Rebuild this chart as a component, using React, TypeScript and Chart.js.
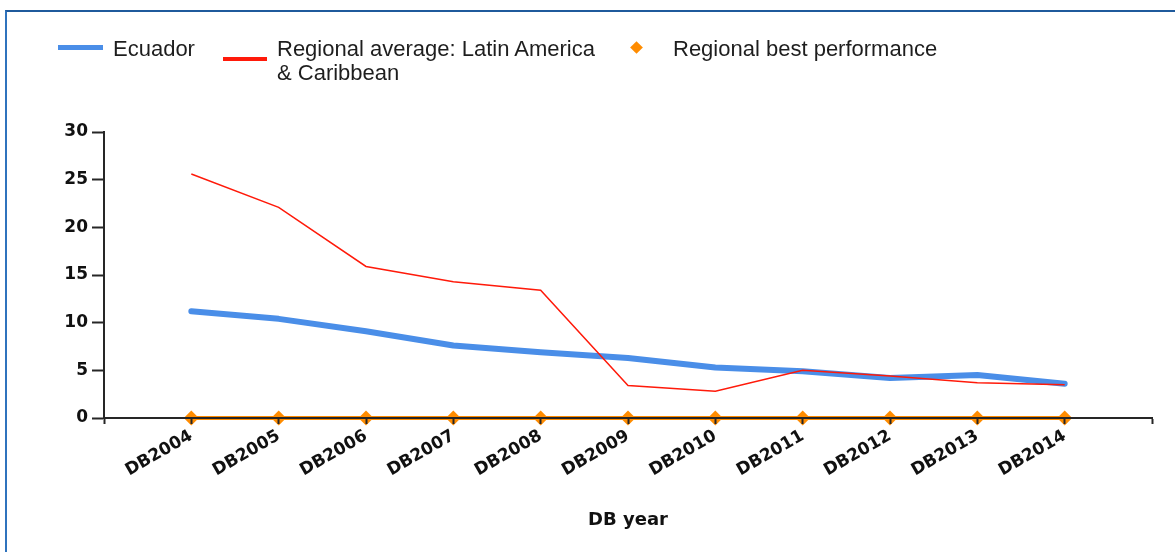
import React, { useEffect, useRef } from 'react';
import { Chart, registerables } from 'chart.js';

Chart.register(...registerables);

const categories = ['DB2004', 'DB2005', 'DB2006', 'DB2007', 'DB2008', 'DB2009', 'DB2010', 'DB2011', 'DB2012', 'DB2013', 'DB2014'];
const ecuador = [11.2, 10.4, 9.1, 7.6, 6.9, 6.3, 5.3, 4.9, 4.2, 4.5, 3.6];
const regionalAverage = [25.6, 22.1, 15.9, 14.3, 13.4, 3.4, 2.8, 5.0, 4.4, 3.7, 3.5];
const regionalBest = [0, 0, 0, 0, 0, 0, 0, 0, 0, 0, 0];
const seriesNames = ['Ecuador', 'Regional average: Latin America & Caribbean', 'Regional best performance'];
const yMin = 0;
const yMax = 30;
const yStep = 5;
const xTitle = 'DB year';

const BLUE = '#4a8ee8';
const RED = '#ff1a0a';
const ORANGE = '#ff8c00';
const AXIS = '#262626';
const TEXT = '#111111';

const pad = (arr: number[]) => [null, ...arr, null];

export default function App() {
  const canvasRef = useRef<HTMLCanvasElement | null>(null);

  useEffect(() => {
    if (!canvasRef.current) return;
    const tickFont = { family: 'DejaVu Sans', weight: 'bold' as const, size: 17 };
    const chart = new Chart(canvasRef.current, {
      type: 'line',
      data: {
        labels: ['', ...categories, ''],
        datasets: [
          {
            label: seriesNames[0],
            data: pad(ecuador),
            borderColor: BLUE,
            backgroundColor: BLUE,
            borderWidth: 6,
            pointRadius: 0,
            borderCapStyle: 'round',
            borderJoinStyle: 'round',
            order: 3,
          },
          {
            label: seriesNames[1],
            data: pad(regionalAverage),
            borderColor: RED,
            backgroundColor: RED,
            borderWidth: 1.5,
            pointRadius: 0,
            order: 2,
          },
          {
            label: seriesNames[2],
            data: pad(regionalBest),
            borderColor: ORANGE,
            backgroundColor: ORANGE,
            borderWidth: 4,
            pointStyle: 'rectRot',
            pointRadius: 7.5,
            pointBackgroundColor: ORANGE,
            pointBorderColor: ORANGE,
            pointBorderWidth: 0,
            clip: false,
            order: 1,
          },
        ],
      },
      options: {
        responsive: false,
        animation: false,
        layout: { padding: { left: 0, top: 132, right: 23, bottom: 0 } },
        plugins: { legend: { display: false }, tooltip: { enabled: false } },
        scales: {
          x: {
            type: 'category',
            offset: false,
            grid: { drawOnChartArea: false, drawTicks: true, tickLength: 6, tickColor: AXIS, tickWidth: 2, z: 1 },
            border: { display: true, color: AXIS, width: 2, z: 1 },
            ticks: {
              autoSkip: false,
              minRotation: 30,
              maxRotation: 30,
              padding: 2,
              color: TEXT,
              font: tickFont,
            },
            title: {
              display: true,
              text: xTitle,
              color: TEXT,
              font: { family: 'DejaVu Sans', weight: 'bold', size: 18 },
              padding: { top: 0, bottom: 21 },
            },
            afterFit: (s: any) => {
              s.height = 134;
            },
          },
          y: {
            min: yMin,
            max: yMax,
            ticks: { stepSize: yStep, padding: 4, color: TEXT, font: tickFont },
            grid: { drawOnChartArea: false, drawTicks: true, tickLength: 12, tickColor: AXIS, tickWidth: 2, z: 1 },
            border: { display: true, color: AXIS, width: 2, z: 1 },
            afterFit: (s: any) => {
              s.width = 104;
            },
          },
        },
      },
    } as any);
    return () => chart.destroy();
  }, []);

  const legendText: React.CSSProperties = {
    position: 'absolute',
    top: 37,
    fontFamily: '"Liberation Sans", Arial, sans-serif',
    fontSize: 22,
    lineHeight: '24px',
    color: '#1e1e1e',
    whiteSpace: 'normal',
  };

  return (
    <div style={{ position: 'absolute', left: 0, top: 0, width: 1175, height: 552, overflow: 'hidden', background: '#fff' }}>
      <div
        style={{
          position: 'absolute',
          left: 5,
          top: 10,
          width: 1400,
          height: 800,
          borderTop: '2px solid #1f5a9c',
          borderLeft: '2px solid #2f73bd',
        }}
      />
      <canvas ref={canvasRef} width={1175} height={552} style={{ position: 'absolute', left: 0, top: 0 }} />
      <div style={{ position: 'absolute', left: 58, top: 45, width: 45, height: 5, background: BLUE }} />
      <div style={{ ...legendText, left: 113 }}>{seriesNames[0]}</div>
      <div style={{ position: 'absolute', left: 223, top: 57, width: 44, height: 4, background: RED }} />
      <div style={{ ...legendText, left: 277, width: 330 }}>{seriesNames[1]}</div>
      <div
        style={{
          position: 'absolute',
          left: 632,
          top: 43,
          width: 9,
          height: 9,
          background: ORANGE,
          transform: 'rotate(45deg)',
          transformOrigin: 'center',
        }}
      />
      <div style={{ ...legendText, left: 673 }}>{seriesNames[2]}</div>
    </div>
  );
}
